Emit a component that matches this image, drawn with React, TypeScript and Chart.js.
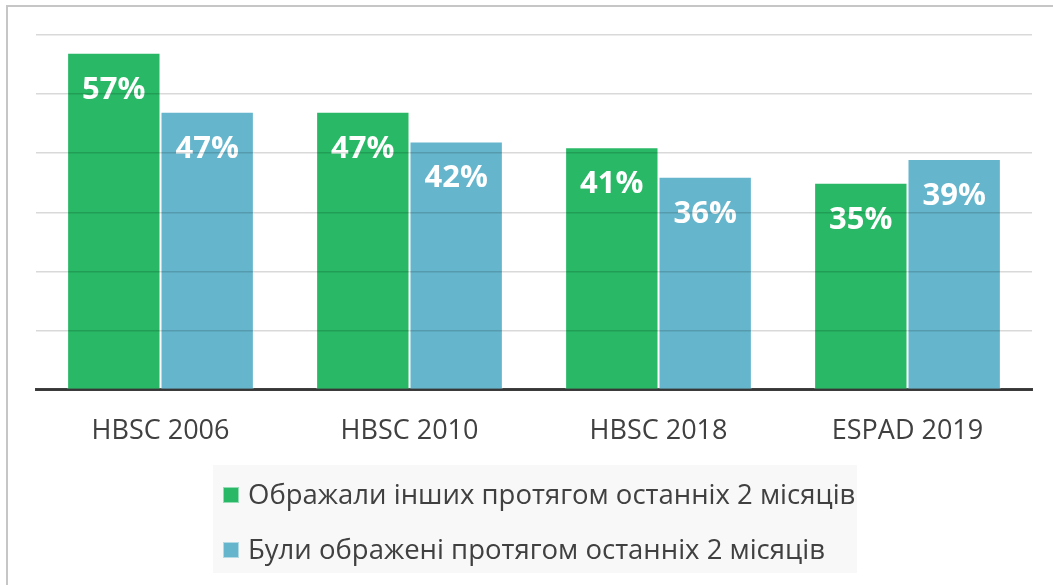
import React, { useEffect, useRef } from "react";
import { Chart, registerables } from "chart.js";

Chart.register(...registerables);

const categories = ["HBSC 2006", "HBSC 2010", "HBSC 2018", "ESPAD 2019"];
const offendedOthers = [57, 47, 41, 35];
const wereOffended = [47, 42, 36, 39];
const seriesLabels = [
  "Ображали інших протягом останніх 2 місяців",
  "Були ображені протягом останніх 2 місяців",
];
const seriesColors = ["#29b966", "#65b6cd"];
const yTicks = [0, 10, 20, 30, 40, 50, 60];

const FONT = "'Open Sans', 'Noto Sans', sans-serif";

const framePlugin = {
  id: "frame",
  beforeDraw(chart: any) {
    const { ctx, width, height } = chart;
    ctx.save();
    ctx.fillStyle = "#ffffff";
    ctx.fillRect(0, 0, width, height);
    ctx.strokeStyle = "#c6c6c6";
    ctx.lineWidth = 2;
    ctx.strokeRect(7, 6, width + 20, height + 20);
    ctx.restore();
  },
};

const valueLabelPlugin = {
  id: "valueLabels",
  afterDatasetsDraw(chart: any) {
    const { ctx } = chart;
    ctx.save();
    ctx.fillStyle = "#ffffff";
    ctx.font = `bold 31px ${FONT}`;
    ctx.textAlign = "center";
    ctx.textBaseline = "middle";
    chart.data.datasets.forEach((ds: any, di: number) => {
      const meta = chart.getDatasetMeta(di);
      meta.data.forEach((bar: any, i: number) => {
        ctx.fillText(`${ds.data[i]}%`, bar.x, bar.y + 37);
      });
    });
    ctx.restore();
  },
};

const customLegendPlugin = {
  id: "customLegend",
  afterDraw(chart: any) {
    const { ctx } = chart;
    const boxX = 213;
    const boxY = 465;
    const boxW = 644;
    const boxH = 108;
    ctx.save();
    ctx.fillStyle = "#f8f8f8";
    ctx.fillRect(boxX, boxY, boxW, boxH);
    ctx.font = `27.5px ${FONT}`;
    ctx.textBaseline = "middle";
    ctx.textAlign = "left";
    chart.data.datasets.forEach((ds: any, di: number) => {
      const cy = boxY + 30 + di * 55;
      ctx.fillStyle = ds.backgroundColor;
      ctx.fillRect(boxX + 10, cy - 8, 16, 16);
      ctx.strokeStyle = "rgba(255,255,255,0.5)";
      ctx.lineWidth = 1;
      ctx.strokeRect(boxX + 10.5, cy - 7.5, 15, 15);
      ctx.fillStyle = "#404040";
      ctx.fillText(ds.label, boxX + 35, cy + 1);
    });
    ctx.restore();
  },
};

export default function App() {
  const canvasRef = useRef<HTMLCanvasElement | null>(null);

  useEffect(() => {
    if (!canvasRef.current) return;
    const chart = new Chart(canvasRef.current, {
      type: "bar",
      data: {
        labels: categories,
        datasets: [
          {
            label: seriesLabels[0],
            data: offendedOthers,
            backgroundColor: seriesColors[0],
            borderColor: "rgba(255,255,255,0.45)",
            borderWidth: 1,
            categoryPercentage: 0.75,
            barPercentage: 1,
          },
          {
            label: seriesLabels[1],
            data: wereOffended,
            backgroundColor: seriesColors[1],
            borderColor: "rgba(255,255,255,0.45)",
            borderWidth: 1,
            categoryPercentage: 0.75,
            barPercentage: 1,
          },
        ],
      },
      options: {
        responsive: true,
        maintainAspectRatio: false,
        animation: false,
        layout: { padding: { left: 36, right: 21, top: 35, bottom: 111 } },
        plugins: {
          legend: { display: false },
          tooltip: { enabled: false },
        },
        scales: {
          x: {
            grid: { display: false, drawTicks: false },
            border: { display: true, color: "#404040", width: 3 },
            ticks: {
              color: "#404040",
              font: { family: FONT, size: 27 },
              padding: 26,
            },
          },
          y: {
            min: yTicks[0],
            max: yTicks[yTicks.length - 1],
            afterBuildTicks: (axis: any) => {
              axis.ticks = yTicks.map((v) => ({ value: v }));
            },
            ticks: { display: false },
            border: { display: false },
            grid: {
              color: "rgba(0,0,0,0.15)",
              lineWidth: 1.5,
              drawTicks: false,
              z: 1,
            },
          },
        },
      },
      plugins: [framePlugin, valueLabelPlugin, customLegendPlugin],
    });
    return () => chart.destroy();
  }, []);

  return (
    <div style={{ position: "fixed", left: 0, top: 0, width: 1053, height: 585, background: "#fff" }}>
      <canvas ref={canvasRef} />
    </div>
  );
}
